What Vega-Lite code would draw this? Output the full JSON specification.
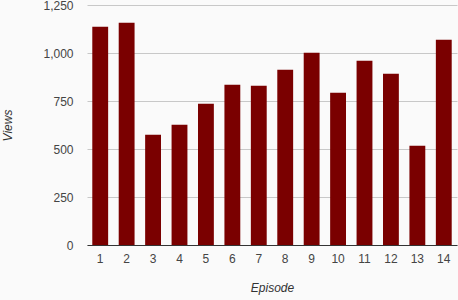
{
  "$schema": "https://vega.github.io/schema/vega-lite/v6.json",
  "autosize": "none",
  "padding": {"left": 87, "top": 5, "right": 1, "bottom": 55},
  "width": 370,
  "height": 240,
  "background": "#fafafa",
  "config": {
    "view": {"stroke": null},
    "font": "Liberation Sans"
  },
  "data": {
    "values": [
      {"Episode": 1, "Views": 1137},
      {"Episode": 2, "Views": 1158},
      {"Episode": 3, "Views": 574},
      {"Episode": 4, "Views": 626},
      {"Episode": 5, "Views": 736},
      {"Episode": 6, "Views": 835},
      {"Episode": 7, "Views": 830},
      {"Episode": 8, "Views": 913},
      {"Episode": 9, "Views": 1001},
      {"Episode": 10, "Views": 793},
      {"Episode": 11, "Views": 960},
      {"Episode": 12, "Views": 892},
      {"Episode": 13, "Views": 517},
      {"Episode": 14, "Views": 1069}
    ]
  },
  "mark": {"type": "bar", "color": "#7a0000"},
  "encoding": {
    "x": {
      "field": "Episode",
      "type": "ordinal",
      "scale": {"paddingInner": 0.4, "paddingOuter": 0.2},
      "axis": {
        "title": "Episode",
        "titleFontStyle": "italic",
        "titleFontWeight": "normal",
        "titleFontSize": 12,
        "titleColor": "#333",
        "titlePadding": 18,
        "labelAngle": 0,
        "labelFontSize": 12,
        "labelColor": "#444",
        "labelPadding": 8,
        "ticks": false,
        "domainColor": "#333",
        "domainWidth": 1
      }
    },
    "y": {
      "field": "Views",
      "type": "quantitative",
      "scale": {"domain": [0, 1250], "nice": false},
      "axis": {
        "title": "Views",
        "titleFontStyle": "italic",
        "titleFontWeight": "normal",
        "titleFontSize": 12,
        "titleColor": "#333",
        "titlePadding": 28,
        "values": [0, 250, 500, 750, 1000, 1250],
        "format": ",d",
        "labelFontSize": 12,
        "labelColor": "#444",
        "labelPadding": 14,
        "ticks": false,
        "domain": false,
        "gridColor": "#c8c8c8",
        "gridWidth": 1
      }
    }
  }
}
